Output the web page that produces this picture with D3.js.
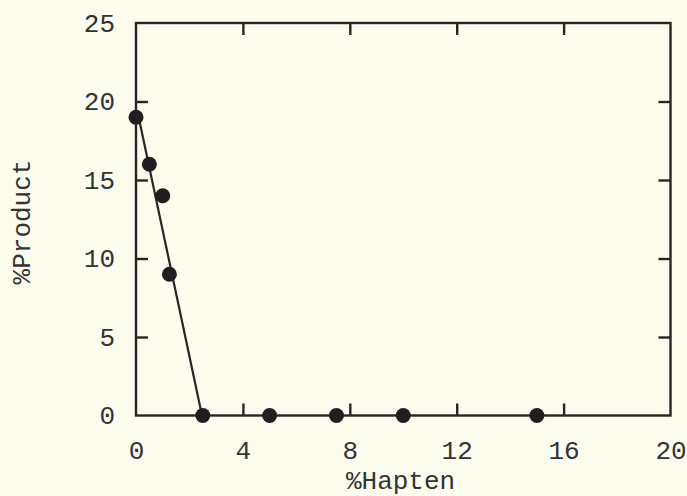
<!DOCTYPE html>
<html><head><meta charset="utf-8">
<script src="https://cdn.jsdelivr.net/npm/d3@7"></script>
<style>
html,body{margin:0;padding:0;background:#fcfcef;}
svg{display:block;}
text{font-family:"Liberation Mono","Courier New",monospace;fill:#333;}
</style></head><body>
<svg id="c" width="687" height="496"></svg>
<script>
const hapten = [0, 0.5, 1, 1.25, 2.5, 5, 7.5, 10, 15];
const product = [19, 16, 14, 9, 0, 0, 0, 0, 0];
const fitX = [0.1, 2.47];
const fitY = [19, 0];
const xTicks = [0, 4, 8, 12, 16, 20];
const yTicks = [0, 5, 10, 15, 20, 25];

const svg = d3.select("#c");
const m = {l:136, r:670.5, t:23, b:415.5};
const x = d3.scaleLinear().domain([0,20]).range([m.l, m.r]);
const y = d3.scaleLinear().domain([0,25]).range([m.b, m.t]);
const ink = "#2a2427";
const tl = 12;
const fs = "26px";

svg.append("rect").attr("x",m.l).attr("y",m.t).attr("width",m.r-m.l).attr("height",m.b-m.t)
  .attr("fill","none").attr("stroke",ink).attr("stroke-width",2.4);

const inner = t => t>0 && t<20;
const innerY = t => t>0 && t<25;

const bx = svg.append("g").attr("transform",`translate(0,${m.b})`)
  .call(d3.axisBottom(x).tickValues(xTicks).tickSize(0).tickPadding(25));
bx.select(".domain").remove();
bx.selectAll("text").style("font-size",fs).attr("font-family",null);
bx.selectAll(".tick").filter(inner).append("line").attr("y2",-tl).attr("stroke",ink).attr("stroke-width",2.4);

const tx = svg.append("g").attr("transform",`translate(0,${m.t})`)
  .call(d3.axisTop(x).tickValues(xTicks.filter(inner)).tickSize(0).tickFormat(""));
tx.select(".domain").remove();
tx.selectAll(".tick").append("line").attr("y2",tl).attr("stroke",ink).attr("stroke-width",2.4);

const ly = svg.append("g").attr("transform",`translate(${m.l},0)`)
  .call(d3.axisLeft(y).tickValues(yTicks).tickSize(0).tickPadding(21));
ly.select(".domain").remove();
ly.selectAll("text").style("font-size",fs).attr("font-family",null);
ly.selectAll(".tick").filter(innerY).append("line").attr("x2",tl).attr("stroke",ink).attr("stroke-width",2.4);

const ry = svg.append("g").attr("transform",`translate(${m.r},0)`)
  .call(d3.axisRight(y).tickValues(yTicks.filter(innerY)).tickSize(0).tickFormat(""));
ry.select(".domain").remove();
ry.selectAll(".tick").append("line").attr("x2",-tl).attr("stroke",ink).attr("stroke-width",2.4);

svg.append("line").attr("x1",x(fitX[0])).attr("y1",y(fitY[0])).attr("x2",x(fitX[1])).attr("y2",y(fitY[1]))
  .attr("stroke",ink).attr("stroke-width",2.2);

svg.append("g").selectAll("circle").data(hapten.map((h,i)=>[h,product[i]])).join("circle")
  .attr("cx",d=>x(d[0])).attr("cy",d=>y(d[1])).attr("r",7.5).attr("fill","#231c20");

svg.append("text").attr("x",x(9.9)).attr("y",489).attr("text-anchor","middle").style("font-size",fs).text("%Hapten");
svg.append("text").attr("transform",`translate(30,222) rotate(-90)`).attr("text-anchor","middle").style("font-size",fs).text("%Product");
</script></body></html>
